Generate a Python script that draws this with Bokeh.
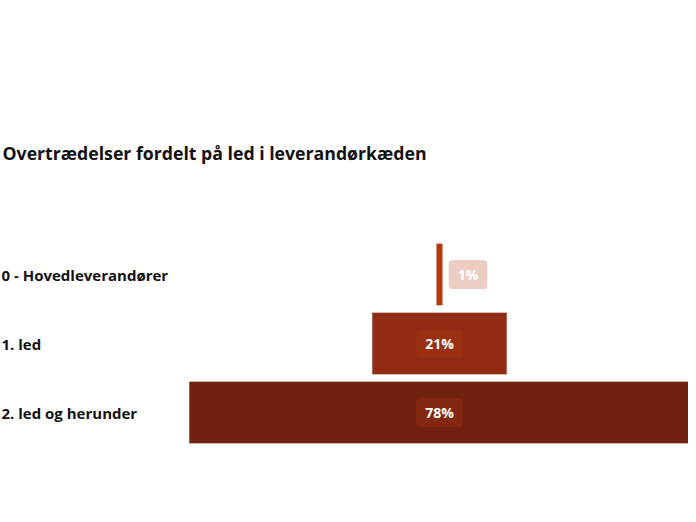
from bokeh.plotting import figure
from bokeh.models import Range1d, Label, ColumnDataSource
from bokeh.core.properties import value
from bokeh.embed import file_html
from bokeh.resources import INLINE

title_text = "Overtrædelser fordelt på led i leverandørkæden"
categories = ["0 - Hovedleverandører", "1. led", "2. led og herunder"]
shares = [1, 21, 78]
bar_colors = ["#b5380e", "#922b14", "#71210f"]
label_fill = "#b5380e"

W, H = 688, 514
px_per_pct = 6.42
center_px = 439
x_start = -center_px / px_per_pct
x_end = (W - center_px) / px_per_pct
row_px = 69
top_px = 274
y_end = -top_px / row_px
y_start = y_end + H / row_px

p = figure(width=W, height=H, output_backend="svg", toolbar_location=None,
           x_range=Range1d(x_start, x_end), y_range=Range1d(y_start, y_end),
           x_axis_type=None, y_axis_type=None, min_border=0,
           outline_line_color=None)
p.grid.visible = False

idx = list(range(len(categories)))
src = ColumnDataSource(dict(
    y=idx,
    left=[-s / 2 for s in shares],
    right=[s / 2 for s in shares],
    color=bar_colors,
    cat=categories,
    cat_x=[x_start] * len(categories),
))
p.hbar(y="y", left="left", right="right", height=62 / 69, fill_color="color",
       line_color="#ffffff", line_alpha=0.35, line_width=1, source=src)

p.text(x="cat_x", y="y", text="cat", source=src, text_font=value("Open Sans"),
       text_font_style="bold", text_font_size="15px", text_color="#111111",
       text_baseline="middle", text_align="left", x_offset=1)

inside = dict(x=[], y=[], t=[])
outside = dict(x=[], y=[], t=[])
for i, s in zip(idx, shares):
    t = f"{s}%"
    if s * px_per_pct < 50:
        outside["x"].append(s / 2)
        outside["y"].append(i)
        outside["t"].append(t)
    else:
        inside["x"].append(0)
        inside["y"].append(i)
        inside["t"].append(t)

common = dict(text_font=value("Open Sans"), text_font_style="bold",
              text_font_size="14px", text_color="#ffffff", text_baseline="middle",
              background_fill_color=label_fill, padding=(9, 5), border_radius=4)
p.text(x="x", y="y", text="t", source=ColumnDataSource(inside), text_align="center",
       background_fill_alpha=0.28, **common)
p.text(x="x", y="y", text="t", source=ColumnDataSource(outside), text_align="left",
       x_offset=6, background_fill_alpha=0.25, **common)

p.add_layout(Label(x=2, y=H - 152, x_units="screen", y_units="screen", text=title_text,
                   text_font="Open Sans", text_font_style="bold", text_font_size="17.7px",
                   text_color="#111111", text_baseline="middle"))

open("out.html", "w").write(file_html(p, INLINE))
